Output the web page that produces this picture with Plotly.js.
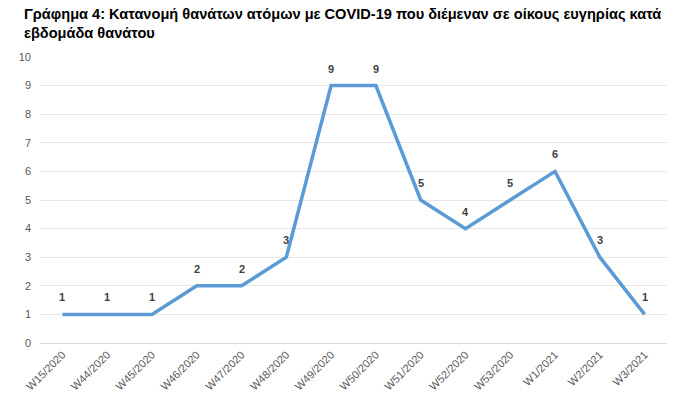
<!DOCTYPE html>
<html><head><meta charset="utf-8">
<script src="https://cdn.plot.ly/plotly-3.0.1.min.js"></script>
<style>html,body{margin:0;padding:0;background:#fff}#chart{width:694px;height:414px}</style>
</head><body><div id="chart"></div>
<script>
const weeks = ["W15/2020","W44/2020","W45/2020","W46/2020","W47/2020","W48/2020","W49/2020","W50/2020","W51/2020","W52/2020","W53/2020","W1/2021","W2/2021","W3/2021"];
const deaths = [1,1,1,2,2,3,9,9,5,4,5,6,3,1];
const titleLines = ["Γράφημα 4: Κατανομή θανάτων ατόμων με COVID-19 που διέμεναν σε οίκους ευγηρίας κατά", "εβδομάδα θανάτου"];

const labelAnns = weeks.map((w, i) => ({
  x: w, y: deaths[i], xref: "x", yref: "y", text: String(deaths[i]), showarrow: false,
  yshift: 17, font: {family: "Liberation Sans, Arial, sans-serif", size: 11, color: "#404040", weight: "bold"}
}));
const titleAnns = titleLines.map((t, i) => ({
  x: 0, y: 1, xref: "paper", yref: "paper", xanchor: "left", yanchor: "top", align: "left",
  text: t, showarrow: false, xshift: -18, yshift: 53 - i * 19,
  font: {family: "Liberation Sans Narrow, Arial Narrow, sans-serif", size: 14.6, color: "#000", weight: "bold"}
}));

Plotly.newPlot("chart", [{
  x: weeks, y: deaths, type: "scatter", mode: "lines",
  line: {color: "#5B9BD5", width: 3.5},
  cliponaxis: false, hoverinfo: "none"
}], {
  width: 694, height: 414,
  margin: {l: 40, r: 27, t: 57, b: 71},
  paper_bgcolor: "#fff", plot_bgcolor: "#fff",
  showlegend: false,
  annotations: titleAnns.concat(labelAnns),
  xaxis: {type: "category", range: [-0.5, 13.5], showgrid: false, zeroline: false,
    showline: true, linecolor: "#d9d9d9", linewidth: 1,
    tickangle: -45, ticks: "", tickfont: {family: "Liberation Sans, Arial, sans-serif", size: 11, color: "#595959"}},
  yaxis: {range: [0, 10], dtick: 1, showgrid: true, gridcolor: "#e6e6e6", gridwidth: 1, zeroline: false,
    showline: false, ticks: "", ticklen: 0, ticklabelstandoff: 8,
    tickfont: {family: "Liberation Sans, Arial, sans-serif", size: 11, color: "#595959"}}
}, {displayModeBar: false, staticPlot: true});
</script></body></html>
